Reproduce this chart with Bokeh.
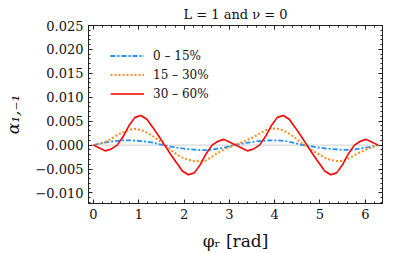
from bokeh.plotting import figure
from bokeh.models import (Range1d, FixedTicker, CustomJSTickFormatter, LinearAxis,
                          Span, Legend, LegendItem)
from bokeh.embed import file_html
from bokeh.resources import INLINE

# ---- data ----
phi = [0.000, 0.131, 0.262, 0.393, 0.524, 0.654, 0.785, 0.916, 1.047, 1.178,
       1.309, 1.440, 1.571, 1.702, 1.833, 1.963, 2.094, 2.225, 2.356, 2.487,
       2.618, 2.749, 2.880, 3.011, 3.142, 3.272, 3.403, 3.534, 3.665, 3.796,
       3.927, 4.058, 4.189, 4.320, 4.451, 4.581, 4.712, 4.843, 4.974, 5.105,
       5.236, 5.367, 5.498, 5.629, 5.760, 5.890, 6.021, 6.152, 6.283]

alpha_0_15 = [0.0, 0.0003, 0.00055, 0.00075, 0.0009, 0.001, 0.001, 0.00095, 0.00085, 0.0007,
              0.0005, 0.0002, -0.00005, -0.0003, -0.0005, -0.0007, -0.00085, -0.00095, -0.00105, -0.00105,
              -0.00095, -0.00075, -0.00055, -0.0002, 0.0001, 0.0003, 0.0005, 0.0007, 0.00085, 0.00095,
              0.001, 0.001, 0.0009, 0.0007, 0.0004, 0.0001, -0.0001, -0.0003, -0.0005, -0.0007,
              -0.0008, -0.0009, -0.001, -0.001, -0.0009, -0.0007, -0.0005, -0.0003, 0.0]

alpha_15_30 = [0.0, 0.0003, 0.0007, 0.0013, 0.0021, 0.0027, 0.0032, 0.0034, 0.0032, 0.0026,
               0.0019, 0.001, 0.0, -0.001, -0.0019, -0.0026, -0.0031, -0.0033, -0.0034, -0.0032,
               -0.0024, -0.0016, -0.0009, -0.0004, 0.0002, 0.0006, 0.0011, 0.0017, 0.0024, 0.0031,
               0.0035, 0.0034, 0.0031, 0.0024, 0.0015, 0.0005, -0.0003, -0.0012, -0.0019, -0.0026,
               -0.0031, -0.0033, -0.0033, -0.0028, -0.0021, -0.0015, -0.0009, -0.0004, 0.0]

alpha_30_60 = [0.0, -0.0006, -0.0012, -0.0008, 0.0, 0.0018, 0.0041, 0.0058, 0.0062, 0.0054,
               0.0037, 0.0019, 0.0, -0.0019, -0.0037, -0.0054, -0.0062, -0.0058, -0.0041, -0.0018,
               0.0, 0.0008, 0.0012, 0.0006, 0.0, -0.0006, -0.0012, -0.0008, 0.0, 0.0018,
               0.0041, 0.0058, 0.0062, 0.0054, 0.0037, 0.0019, 0.0, -0.0019, -0.0037, -0.0054,
               -0.0062, -0.0058, -0.0041, -0.0018, 0.0, 0.0008, 0.0012, 0.0006, 0.0]

series_labels = ["0 \u2013 15%", "15 \u2013 30%", "30 \u2013 60%"]
x_ticks = [0, 1, 2, 3, 4, 5, 6]
y_ticks = [-0.010, -0.005, 0.0, 0.005, 0.010, 0.015, 0.020, 0.025]
title_text = "L = 1 and \u03bd = 0"
x_label = "\u03c6\u1d63 [rad]"
y_label = "\u03b1\u2081,\u208b\u2081"

FONT = "DejaVu Serif"
INK = "#222222"
TXT = "#111111"

p = figure(width=407, height=253, output_backend="svg", toolbar_location=None,
           x_range=Range1d(-0.11, 6.38), y_range=Range1d(-0.0122, 0.025),
           min_border_left=88, min_border_right=25, min_border_top=23,
           min_border_bottom=47)
p.xgrid.visible = False
p.ygrid.visible = False
p.outline_line_color = INK
p.outline_line_width = 1
p.background_fill_color = "white"
p.border_fill_color = "white"

p.title.text = title_text
p.title.align = "center"
p.title.text_font = FONT
p.title.text_font_size = "13px"
p.title.text_font_style = "normal"
p.title.text_color = TXT
p.title.standoff = 8

x_minor = [round(-0.2 + 0.2 * i, 2) for i in range(35)]
y_minor = [round(-0.012 + 0.001 * i, 3) for i in range(38)]

fmt_y = CustomJSTickFormatter(code="return (tick < -1e-9 ? '\\u2212' : '') + Math.abs(tick).toFixed(3);")
fmt_x = CustomJSTickFormatter(code="return tick.toFixed(0);")


def style(ax, ticks, minor, fmt, show):
    ax.ticker = FixedTicker(ticks=ticks, minor_ticks=minor)
    ax.formatter = fmt
    ax.major_tick_in = 4
    ax.major_tick_out = 0
    ax.minor_tick_in = 2
    ax.minor_tick_out = 0
    ax.axis_line_color = INK
    ax.major_tick_line_color = INK
    ax.minor_tick_line_color = INK
    ax.major_label_text_font = FONT
    if show:
        ax.major_label_text_color = TXT
        ax.major_label_text_font_size = "13px"
        ax.major_label_standoff = 5
    else:
        ax.major_label_text_color = None
        ax.major_label_text_font_size = "0px"
        ax.major_label_standoff = 0


xa = p.below[0]
ya = p.left[0]
style(xa, x_ticks, x_minor, fmt_x, True)
style(ya, y_ticks, y_minor, fmt_y, True)
top_ax = LinearAxis()
right_ax = LinearAxis()
style(top_ax, x_ticks, x_minor, fmt_x, False)
style(right_ax, y_ticks, y_minor, fmt_y, False)
p.add_layout(top_ax, "above")
p.add_layout(right_ax, "right")

xa.axis_label = x_label
xa.axis_label_text_font = FONT
xa.axis_label_text_font_size = "17px"
xa.axis_label_text_font_style = "normal"
xa.axis_label_text_color = TXT
xa.axis_label_standoff = 9

ya.axis_label = y_label
ya.axis_label_text_font = FONT
ya.axis_label_text_font_size = "17px"
ya.axis_label_text_font_style = "italic"
ya.axis_label_text_color = TXT
ya.axis_label_standoff = 9

zero = Span(location=0, dimension="width", line_color="#d9d9d9", line_width=1.3, level="underlay")
p.add_layout(zero)

r_blue = p.line(phi, alpha_0_15, line_color="#1E8FFF", line_width=1.8, line_dash="5 2 2 2")
r_orange = p.line(phi, alpha_15_30, line_color="#FF8C1A", line_width=2.0, line_dash="2 2")
r_red = p.line(phi, alpha_30_60, line_color="#FF0000", line_width=1.6, line_join="round")

legend = Legend(items=[LegendItem(label=series_labels[0], renderers=[r_blue]),
                       LegendItem(label=series_labels[1], renderers=[r_orange]),
                       LegendItem(label=series_labels[2], renderers=[r_red])],
                location=(22, 100))
legend.border_line_color = None
legend.background_fill_alpha = 0
legend.padding = 0
legend.margin = 0
legend.spacing = 0
legend.glyph_width = 34
legend.glyph_height = 19
legend.label_height = 19
legend.label_standoff = 9
legend.label_text_font = FONT
legend.label_text_font_size = "12px"
legend.label_text_color = TXT
p.add_layout(legend)

open("out.html", "w").write(file_html(p, INLINE))
